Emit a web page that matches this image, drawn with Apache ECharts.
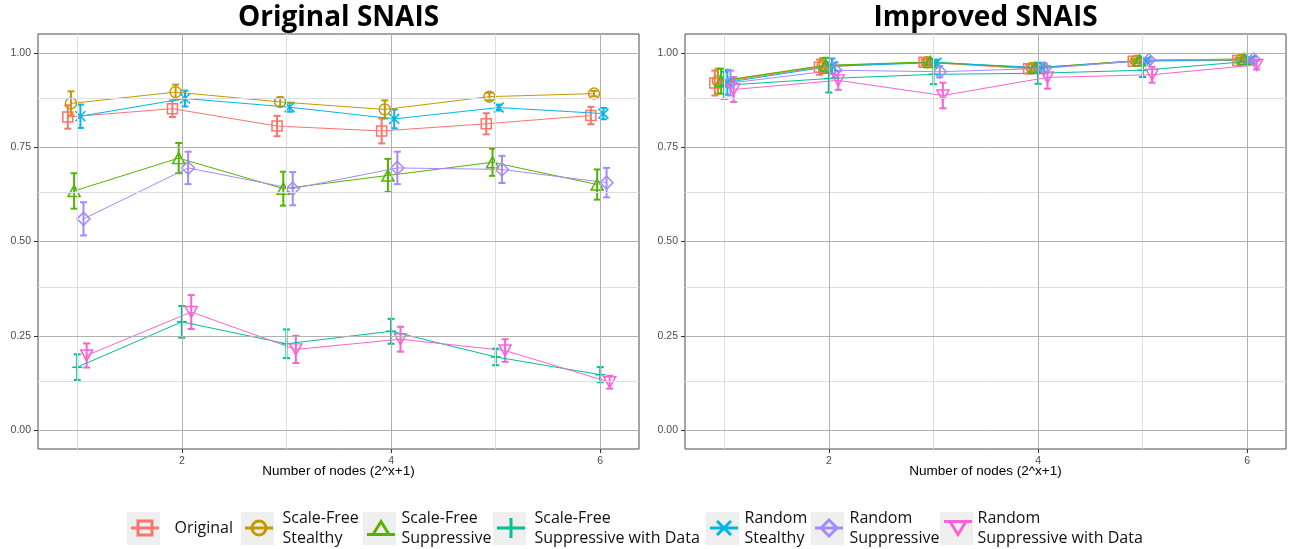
<!DOCTYPE html>
<html><head><meta charset="utf-8">
<script src="https://cdn.jsdelivr.net/npm/echarts@6/dist/echarts.min.js"></script>
<style>html,body{margin:0;padding:0;background:#fff}#c{width:1290px;height:549px}</style>
</head><body><div id="c"></div>
<script>
// ---------- DATA ----------
const xValues = [1, 2, 3, 4, 5, 6];
const seriesNames = ['Original','Scale-Free Stealthy','Scale-Free Suppressive','Scale-Free Suppressive with Data','Random Stealthy','Random Suppressive','Random Suppressive with Data'];
const legendLabels = ['Original','Scale-Free\nStealthy','Scale-Free\nSuppressive','Scale-Free\nSuppressive with Data','Random\nStealthy','Random\nSuppressive','Random\nSuppressive with Data'];
const panelTitles = ['Original SNAIS', 'Improved SNAIS'];
const xAxisTitle = 'Number of nodes (2^x+1)';
const xTickValues = [2, 4, 6];
const yTickValues = [0, 0.25, 0.5, 0.75, 1];
const xMinorGrid = [1, 3, 5];
const yMinorGrid = [0.125, 0.375, 0.625, 0.875];

// Original SNAIS (left panel): means and error half-widths
const origMeanL     = [0.830, 0.852, 0.806, 0.793, 0.812, 0.834];
const origErrL      = [0.031, 0.022, 0.027, 0.033, 0.028, 0.023];
const sfStealthMeanL= [0.866, 0.896, 0.870, 0.850, 0.884, 0.892];
const sfStealthErrL = [0.032, 0.020, 0.012, 0.024, 0.010, 0.007];
const sfSuppMeanL   = [0.634, 0.721, 0.640, 0.675, 0.710, 0.651];
const sfSuppErrL    = [0.047, 0.040, 0.045, 0.044, 0.036, 0.040];
const sfSwdMeanL    = [0.167, 0.287, 0.229, 0.262, 0.194, 0.147];
const sfSwdErrL     = [0.034, 0.042, 0.038, 0.033, 0.022, 0.020];
const rStealthMeanL = [0.832, 0.879, 0.856, 0.825, 0.855, 0.839];
const rStealthErrL  = [0.031, 0.021, 0.012, 0.025, 0.008, 0.015];
const rSuppMeanL    = [0.560, 0.695, 0.640, 0.695, 0.691, 0.656];
const rSuppErrL     = [0.044, 0.043, 0.044, 0.043, 0.036, 0.039];
const rSwdMeanL     = [0.198, 0.313, 0.214, 0.241, 0.211, 0.127];
const rSwdErrL      = [0.032, 0.045, 0.036, 0.033, 0.030, 0.017];

// Improved SNAIS (right panel)
const origMeanR     = [0.920, 0.962, 0.975, 0.958, 0.978, 0.980];
const origErrR      = [0.033, 0.020, 0.008, 0.012, 0.006, 0.006];
const sfStealthMeanR= [0.925, 0.966, 0.975, 0.960, 0.979, 0.982];
const sfStealthErrR = [0.033, 0.020, 0.008, 0.012, 0.006, 0.006];
const sfSuppMeanR   = [0.925, 0.967, 0.976, 0.960, 0.980, 0.984];
const sfSuppErrR    = [0.033, 0.020, 0.008, 0.012, 0.006, 0.006];
const sfSwdMeanR    = [0.914, 0.932, 0.943, 0.946, 0.954, 0.977];
const sfSwdErrR     = [0.036, 0.037, 0.026, 0.028, 0.018, 0.008];
const rStealthMeanR = [0.922, 0.965, 0.974, 0.961, 0.979, 0.982];
const rStealthErrR  = [0.033, 0.020, 0.008, 0.012, 0.006, 0.006];
const rSuppMeanR    = [0.920, 0.954, 0.950, 0.959, 0.981, 0.983];
const rSuppErrR     = [0.033, 0.020, 0.015, 0.012, 0.006, 0.006];
const rSwdMeanR     = [0.903, 0.927, 0.887, 0.935, 0.942, 0.968];
const rSwdErrR      = [0.033, 0.025, 0.034, 0.030, 0.021, 0.012];

const meansL = [origMeanL, sfStealthMeanL, sfSuppMeanL, sfSwdMeanL, rStealthMeanL, rSuppMeanL, rSwdMeanL];
const errsL  = [origErrL, sfStealthErrL, sfSuppErrL, sfSwdErrL, rStealthErrL, rSuppErrL, rSwdErrL];
const meansR = [origMeanR, sfStealthMeanR, sfSuppMeanR, sfSwdMeanR, rStealthMeanR, rSuppMeanR, rSwdMeanR];
const errsR  = [origErrR, sfStealthErrR, sfSuppErrR, sfSwdErrR, rStealthErrR, rSuppErrR, rSwdErrR];

// ---------- STYLE ----------
const colors = ['#F8766D','#C49A00','#53B400','#00C094','#00B6EB','#A58AFF','#FB61D7'];
const symbols = ['rect','circle','triangle','path://M5,0L5,10M0,5L10,5','path://M0,0L10,10M10,0L0,10','diamond','triangle'];
const symbolSizes = [10, 11, [12, 11], 10, 10, [13, 13], [12, 11]];
const symbolRotates = [0, 0, 0, 0, 0, 0, 180];
const legendIcons = [
  'path://M0,10L28,10M7,3L21,3L21,17L7,17Z',
  'path://M0,10L28,10M21,10A7,7,0,1,1,7,10A7,7,0,1,1,21,10Z',
  'path://M0,15L28,15M14,2L22,15L6,15Z',
  'path://M0,10L28,10M14,0L14,20',
  'path://M0,10L28,10M7,3L21,17M21,3L7,17',
  'path://M0,10L28,10M14,2L22,10L14,18L6,10Z',
  'path://M0,4L28,4M6,4L22,4L14,17Z'
];
const dodge = 0.03;
const gridLefts = [38, 685];
const legendBoxLeft = [127, 241, 363, 493, 706, 811, 940];
const legendTextLeft = [173, 281, 400, 533, 743, 848, 976];
const majorLine = {color: '#b0b0b0', width: 1, type: 'solid'};
const minorLine = {color: '#dedede', width: 1, type: 'solid'};

function makeErr(color) {
  return function (params, api) {
    const x = api.value(0), lo = api.value(1), hi = api.value(2);
    const a = api.coord([x, lo]), b = api.coord([x, hi]);
    const w = 3.5;
    const st = {stroke: color, lineWidth: 2, fill: null};
    return {type: 'group', children: [
      {type: 'line', shape: {x1: a[0], y1: a[1], x2: b[0], y2: b[1]}, style: st},
      {type: 'line', shape: {x1: a[0] - w, y1: a[1], x2: a[0] + w, y2: a[1]}, style: st},
      {type: 'line', shape: {x1: b[0] - w, y1: b[1], x2: b[0] + w, y2: b[1]}, style: st}
    ]};
  };
}

const series = [];
[0, 1].forEach(p => {
  const means = p === 0 ? meansL : meansR;
  const errs = p === 0 ? errsL : errsR;
  const mlData = [];
  xMinorGrid.forEach(v => mlData.push({xAxis: v, lineStyle: minorLine}));
  yMinorGrid.forEach(v => mlData.push({yAxis: v, lineStyle: minorLine}));
  xTickValues.forEach(v => mlData.push({xAxis: v, lineStyle: majorLine}));
  yTickValues.forEach(v => mlData.push({yAxis: v, lineStyle: majorLine}));
  series.push({
    name: 'gridlines' + p, type: 'line', xAxisIndex: p, yAxisIndex: p, data: [], silent: true, z: 1,
    markLine: {silent: true, symbol: ['none', 'none'], label: {show: false}, animation: false, data: mlData}
  });
  means.forEach((m, i) => {
    const off = (i - 3) * dodge;
    series.push({
      name: seriesNames[i] + ' err', type: 'custom', xAxisIndex: p, yAxisIndex: p, z: 2, silent: true,
      renderItem: makeErr(colors[i]), encode: {x: 0, y: [1, 2]},
      data: xValues.map((x, k) => [x + off, m[k] - errs[i][k], m[k] + errs[i][k]])
    });
    series.push({
      name: seriesNames[i], type: 'line', xAxisIndex: p, yAxisIndex: p, z: 3, silent: true,
      data: xValues.map((x, k) => [x + off, m[k]]),
      symbol: symbols[i], symbolSize: symbolSizes[i], symbolRotate: symbolRotates[i], showSymbol: true,
      color: colors[i],
      itemStyle: {color: 'rgba(0,0,0,0)', borderColor: colors[i], borderWidth: 1.5},
      lineStyle: {color: colors[i], width: 1}
    });
  });
});

const axisLabelStyle = {fontFamily: 'Liberation Sans', fontSize: 10.5, color: '#4d4d4d'};
const xAxes = [0, 1].map(p => ({
  type: 'value', gridIndex: p, min: 0.625, max: 6.37,
  name: xAxisTitle, nameLocation: 'middle', nameGap: 15, nameMoveOverlap: false,
  nameTextStyle: {fontFamily: 'Liberation Sans', fontSize: 13.5, color: '#000'},
  axisLine: {show: false, onZero: false}, splitLine: {show: false},
  axisTick: {show: true, customValues: xTickValues, length: 4, lineStyle: {color: '#333'}},
  axisLabel: Object.assign({customValues: xTickValues, margin: 7}, axisLabelStyle)
}));
const yAxes = [0, 1].map(p => ({
  type: 'value', gridIndex: p, min: -0.05, max: 1.05,
  axisLine: {show: false, onZero: false}, splitLine: {show: false},
  axisTick: {show: true, customValues: yTickValues, length: 4, lineStyle: {color: '#333'}},
  axisLabel: Object.assign({customValues: yTickValues, margin: 7, formatter: v => v.toFixed(2)}, axisLabelStyle)
}));

const legends = seriesNames.map((n, i) => {
  const left = legendBoxLeft[i] + 16.5 - 14;
  const pad = legendTextLeft[i] - left - 33;
  const lines = legendLabels[i].split('\n').length;
  return {
    left: left, top: 528 - lines * 10, padding: 0, itemWidth: 28, itemHeight: 20, itemGap: 0,
    selectedMode: false, orient: 'horizontal',
    data: [{name: n, icon: legendIcons[i], itemStyle: {color: 'rgba(0,0,0,0)', borderColor: colors[i], borderWidth: 3}}],
    formatter: () => legendLabels[i],
    textStyle: {fontFamily: 'Open Sans', fontSize: 16, lineHeight: 20, color: '#111', padding: [0, 0, 0, pad]}
  };
});

const graphics = [];
panelTitles.forEach((t, p) => {
  graphics.push({type: 'text', x: gridLefts[p] + 300.5, y: 18, silent: true,
    style: {text: t, fill: '#000', font: 'bold 28px "Open Sans"', textAlign: 'center', textVerticalAlign: 'middle', align: 'center', verticalAlign: 'middle'}});
});
legendBoxLeft.forEach(x => {
  graphics.push({type: 'rect', silent: true, z: 0, shape: {x: x, y: 512, width: 33, height: 33}, style: {fill: '#efefef'}});
});

const chart = echarts.init(document.getElementById('c'), null, {renderer: 'canvas'});
chart.setOption({
  animation: false,
  backgroundColor: '#fff',
  grid: gridLefts.map(l => ({left: l, top: 34, width: 601, height: 415, show: true, borderColor: '#4d4d4d', borderWidth: 1, backgroundColor: 'rgba(0,0,0,0)'})),
  xAxis: xAxes,
  yAxis: yAxes,
  legend: legends,
  graphic: graphics,
  series: series
});
</script></body></html>
